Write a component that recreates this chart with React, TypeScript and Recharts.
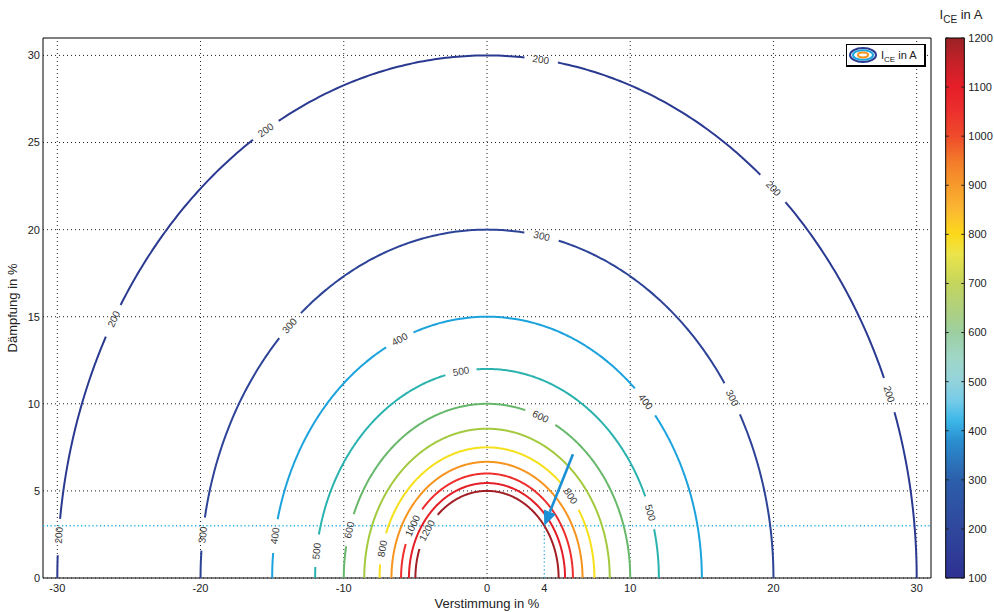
import {
  ComposedChart,
  Line,
  Scatter,
  XAxis,
  YAxis,
  ReferenceLine,
  ReferenceArea,
} from 'recharts'

const FONT = '"Liberation Sans", Arial, Helvetica, sans-serif'

// ─── Data ─────────────────────────────────────────────────────────────────────

// contour levels in A and the radius (in %) each one has in the plane
const levels = [200, 300, 400, 500, 600, 700, 800, 900, 1000, 1100, 1200]
const radii = [30, 20, 15, 12, 10, 8.57, 7.5, 6.67, 6, 5.45, 5]
const levelColors = [
  '#2b3a91', '#2d4397', '#1ca3dd', '#2ab3ae', '#67b86a', '#a3ca3e',
  '#f6e01b', '#f7941e', '#ee2e2d', '#e41f28', '#a11f25',
]

// inline contour labels: which level, and where on it (angle in degrees)
const labelLevels = [200, 200, 200, 200, 200, 200, 300, 300, 300, 300, 400, 400, 400, 500, 500, 500, 600, 600, 800, 800, 1000, 1200]
const labelAngles = [175.3, 150.3, 121, 82.8, 48.2, 20.6, 172.9, 133.6, 79, 31.1, 170.7, 114, 42.4, 172.6, 98.7, 18.2, 164, 68, 167, 38.8, 150, 147]

const xTicks = [-30, -20, -10, 0, 4, 10, 20, 30]
const xGrid = [-30, -20, -10, 0, 10, 20, 30]
const yTicks = [0, 5, 10, 15, 20, 25, 30]

// operating point marked by the arrow and the cyan guides
const markX = 4
const markY = 3
const arrowFrom = { x: 6, y: 7.1 }

// colorbar
const cbTicks = [100, 200, 300, 400, 500, 600, 700, 800, 900, 1000, 1100, 1200]
const cbValues = [100, 200, 300, 380, 420, 460, 500, 550, 600, 650, 700, 760, 800, 850, 900, 950, 1000, 1050, 1100, 1150, 1200]
const cbColors = [
  '#2e3192', '#2f479d', '#2c5fab', '#2a8fd0', '#3bb7e8', '#74cbe8', '#93d3dc', '#9fd6c6', '#9ccfa0', '#b0d17d',
  '#c4d55c', '#ece44a', '#fcd91a', '#fbb832', '#f79a2b', '#f47a2a', '#ef4b2a', '#ec302d', '#e61e29', '#c52127', '#9b2226',
]
const cbRange = [{ x: 0, y: 100 }, { x: 1, y: 1200 }]

// ─── Layout ───────────────────────────────────────────────────────────────────

const W = 994
const H = 612
const M = { top: 38, right: 63, bottom: 0, left: 0 }
const Y_AXIS_W = 43
const X_AXIS_H = 34
const X_DOMAIN: [number, number] = [-31, 31]
const Y_DOMAIN: [number, number] = [0, 31]
const SX = (W - M.left - M.right - Y_AXIS_W) / (X_DOMAIN[1] - X_DOMAIN[0])
const SY = (H - M.top - M.bottom - X_AXIS_H) / (Y_DOMAIN[1] - Y_DOMAIN[0])

const radiusOf = (level: number) => radii[levels.indexOf(level)]

// pixel speed along a contour at angle t (rad), per unit radius
const speed = (t: number) => Math.hypot(Math.sin(t) * SX, Math.cos(t) * SY)

const labels = labelLevels.map((level, i) => {
  const r = radiusOf(level)
  const t = (labelAngles[i] * Math.PI) / 180
  let rot = (Math.atan2(-Math.cos(t) * SY, -Math.sin(t) * SX) * 180) / Math.PI
  if (rot > 90) rot -= 180
  if (rot < -90) rot += 180
  const text = String(level)
  const gapPx = text.length > 3 ? 38 : 31
  const half = ((gapPx / 2) / (r * speed(t)) * 180) / Math.PI
  return { x: r * Math.cos(t), y: r * Math.sin(t), text, rot, level, angle: labelAngles[i], half }
})

const contours = levels.map((level, i) => {
  const r = radii[i]
  const gaps = labels.filter((l) => l.level === level)
  const pts: { x: number; y: number | null }[] = []
  for (let a = 0; a <= 180; a += 0.5) {
    const t = (a * Math.PI) / 180
    const inGap = gaps.some((g) => Math.abs(a - g.angle) < g.half)
    pts.push({ x: r * Math.cos(t), y: inGap ? null : r * Math.sin(t) })
  }
  return { level, color: levelColors[i], pts }
})

// ─── Pieces ───────────────────────────────────────────────────────────────────

function ContourLabel(props: any) {
  const { cx, cy, payload } = props
  if (cx == null || cy == null) return null
  return (
    <text
      x={cx}
      y={cy}
      transform={`rotate(${payload.rot} ${cx} ${cy})`}
      textAnchor="middle"
      dominantBaseline="central"
      fontSize={10}
      fontFamily={FONT}
      fill="#3a3a3a"
    >
      {payload.text}
    </text>
  )
}

function Arrow(props: any) {
  const { x1, y1, x2, y2 } = props
  if ([x1, y1, x2, y2].some((v) => v == null || Number.isNaN(v))) return null
  const len = Math.hypot(x2 - x1, y2 - y1)
  const ux = (x2 - x1) / len
  const uy = (y2 - y1) / len
  const hl = 15
  const hw = 6.5
  const bx = x2 - ux * hl
  const by = y2 - uy * hl
  return (
    <g>
      <line x1={x1} y1={y1} x2={bx} y2={by} stroke="#1a8fd6" strokeWidth={2.6} />
      <polygon
        points={`${x2},${y2} ${bx - uy * hw},${by + ux * hw} ${bx + uy * hw},${by - ux * hw}`}
        fill="#1a8fd6"
      />
    </g>
  )
}

function LegendBox() {
  return (
    <div
      style={{
        position: 'absolute',
        left: 846,
        top: 44,
        width: 80,
        height: 23,
        boxSizing: 'border-box',
        background: '#fff',
        borderTop: '1px solid #000',
        borderLeft: '1px solid #000',
        borderRight: '2px solid #000',
        borderBottom: '2px solid #000',
      }}
    >
      <svg width={78} height={20} style={{ position: 'absolute', left: 0, top: 0 }}>
        <ellipse cx={16} cy={10} rx={13} ry={7} fill="none" stroke="#2b3a91" strokeWidth={2} />
        <ellipse cx={16} cy={10} rx={10} ry={4.8} fill="none" stroke="#1ca3dd" strokeWidth={2} />
        <ellipse cx={16} cy={10} rx={5} ry={2.4} fill="none" stroke="#f7941e" strokeWidth={2} />
        <text x={34} y={14} fontSize={11} fontFamily={FONT} fill="#222">
          I<tspan fontSize={8} dy={3}>CE</tspan>
          <tspan dy={-3}> in A</tspan>
        </text>
      </svg>
    </div>
  )
}

// ─── Component ────────────────────────────────────────────────────────────────

export default function App() {
  const tickStyle = { fontSize: 11, fill: '#222', fontFamily: FONT }
  const dotted = { stroke: '#222', strokeDasharray: '1 3', strokeWidth: 1 }

  return (
    <div style={{ position: 'absolute', left: 0, top: 0, width: W, height: H, background: '#fff' }}>
      <div style={{ position: 'absolute', left: 0, top: 0 }}>
        <ComposedChart width={W} height={H} margin={M}>
          <XAxis
            type="number"
            dataKey="x"
            domain={X_DOMAIN}
            ticks={xTicks}
            allowDataOverflow
            tickLine={false}
            axisLine={false}
            tickSize={4}
            tickMargin={2}
            tick={tickStyle}
            height={X_AXIS_H}
            label={{
              value: 'Verstimmung in %',
              position: 'insideBottom',
              offset: 4,
              style: { fontSize: 13, fill: '#222', fontFamily: FONT },
            }}
          />
          <YAxis
            type="number"
            dataKey="y"
            domain={Y_DOMAIN}
            ticks={yTicks}
            allowDataOverflow
            tickLine={false}
            axisLine={false}
            tickSize={3}
            tickMargin={0}
            tick={tickStyle}
            width={Y_AXIS_W}
            label={{
              value: 'Dämpfung in %',
              angle: -90,
              position: 'insideLeft',
              offset: 12,
              style: { fontSize: 13, fill: '#222', fontFamily: FONT, textAnchor: 'middle' },
            }}
          />

          {xGrid.map((x) => (
            <ReferenceLine key={`gx${x}`} x={x} {...dotted} />
          ))}
          {yTicks.map((y) => (
            <ReferenceLine key={`gy${y}`} y={y} {...dotted} />
          ))}

          <ReferenceLine y={markY} stroke="#29abe2" strokeDasharray="1.2 2.6" strokeWidth={1.3} />
          <ReferenceLine
            segment={[{ x: markX, y: 0 }, { x: markX, y: markY }]}
            stroke="#29abe2"
            strokeDasharray="1.2 2.6"
            strokeWidth={1.3}
          />

          {contours.map((c) => (
            <Line
              key={c.level}
              data={c.pts}
              dataKey="y"
              type="linear"
              stroke={c.color}
              strokeWidth={2}
              dot={false}
              activeDot={false}
              connectNulls={false}
              isAnimationActive={false}
            />
          ))}

          <Scatter data={labels} dataKey="y" shape={ContourLabel} isAnimationActive={false} />

          <ReferenceLine
            segment={[arrowFrom, { x: markX, y: markY }]}
            shape={Arrow}
            stroke="#1a8fd6"
          />

          <ReferenceArea
            x1={X_DOMAIN[0]}
            x2={X_DOMAIN[1]}
            y1={Y_DOMAIN[0]}
            y2={Y_DOMAIN[1]}
            fill="none"
            stroke="#000"
            strokeWidth={1}
          />
        </ComposedChart>
      </div>

      <LegendBox />

      {/* colorbar */}
      <div style={{ position: 'absolute', left: 930, top: 0 }}>
        <ComposedChart width={64} height={H} data={cbRange} margin={{ top: 38, right: 0, bottom: 0, left: 15.7 }}>
          <defs>
            <linearGradient id="cbGrad" x1="0" y1="1" x2="0" y2="0">
              {cbValues.map((v, i) => (
                <stop key={v} offset={(v - 100) / 1100} stopColor={cbColors[i]} />
              ))}
            </linearGradient>
          </defs>
          <XAxis type="number" dataKey="x" domain={[0, 1]} height={34} tick={false} axisLine={false} tickLine={false} />
          <YAxis
            type="number"
            dataKey="y"
            orientation="right"
            domain={[100, 1200]}
            ticks={cbTicks}
            tickLine={false}
            axisLine={false}
            tickSize={2}
            tickMargin={2}
            tick={tickStyle}
            width={29.7}
          />
          <Line dataKey="y" stroke="none" dot={false} activeDot={false} isAnimationActive={false} />
          <ReferenceArea x1={0} x2={1} y1={100} y2={1200} fill="url(#cbGrad)" fillOpacity={1} stroke="#000" strokeWidth={1} />
          {cbTicks.map((v) => (
            <ReferenceLine key={`l${v}`} segment={[{ x: 0, y: v }, { x: 0.16, y: v }]} stroke="#222" strokeWidth={1} />
          ))}
          {cbTicks.map((v) => (
            <ReferenceLine key={`r${v}`} segment={[{ x: 0.84, y: v }, { x: 1, y: v }]} stroke="#222" strokeWidth={1} />
          ))}
          <text x={31} y={19} textAnchor="middle" fontSize={13} fontFamily={FONT} fill="#222">
            I<tspan fontSize={10} dy={4}>CE</tspan>
            <tspan dy={-4}> in A</tspan>
          </text>
        </ComposedChart>
      </div>
    </div>
  )
}
